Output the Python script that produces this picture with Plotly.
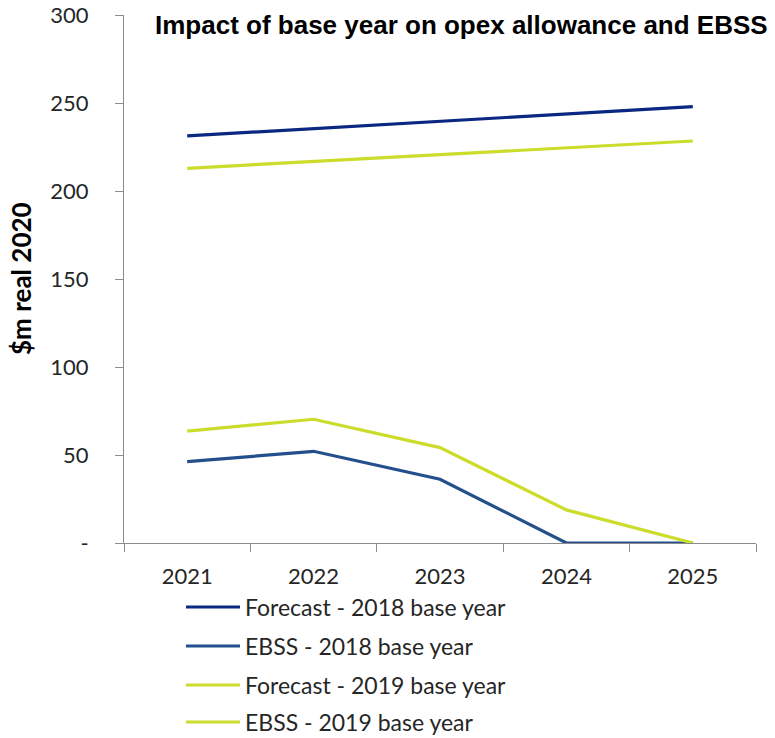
import plotly.graph_objects as go

# Regulatory years
years = ["2021", "2022", "2023", "2024", "2025"]

# $m real 2020
forecast_2018 = [231.3, 235.5, 239.8, 243.8, 247.9]
ebss_2018 = [46.2, 52.1, 36.2, 0.0, 0.0]
forecast_2019 = [212.9, 216.8, 220.8, 224.6, 228.4]
ebss_2019 = [63.6, 70.3, 54.2, 18.8, 0.0]

series_names = [
    "Forecast - 2018 base year",
    "EBSS - 2018 base year",
    "Forecast - 2019 base year",
    "EBSS - 2019 base year",
]
series_values = [forecast_2018, ebss_2018, forecast_2019, ebss_2019]
series_colors = ["#0a2781", "#234f8c", "#cbdc2a", "#cbdc2a"]

y_tick_vals = [0, 50, 100, 150, 200, 250, 300]
y_tick_text = ["-", "50", "100", "150", "200", "250", "300"]

W, H = 775, 738
ML, MR, MT, MB = 124, 19, 15, 195
PW, PH = W - ML - MR, H - MT - MB


def px_x(x):
    return (x - ML) / PW


def px_y(y):
    return (H - MB - y) / PH


fig = go.Figure()
for name, vals, col in zip(series_names, series_values, series_colors):
    fig.add_trace(go.Scatter(
        x=years, y=vals, name=name, mode="lines",
        line=dict(color=col, width=3.2),
        showlegend=False,
    ))

axis_grey = "#8c8c8c"
tick_font = dict(family="Lato, sans-serif", size=22, color="#262626")

fig.update_xaxes(
    type="category", range=[-0.5, 4.5], automargin=False,
    showline=True, linecolor=axis_grey, linewidth=1,
    ticks="outside", ticklen=8, tickcolor=axis_grey, tickwidth=1,
    tickson="boundaries", showgrid=False, zeroline=False,
    tickfont=tick_font, ticklabelstandoff=14,
)
fig.update_yaxes(
    range=[0, 300], tickvals=y_tick_vals, ticktext=y_tick_text, automargin=False,
    showline=True, linecolor=axis_grey, linewidth=1,
    ticks="outside", ticklen=8, tickcolor=axis_grey, tickwidth=1,
    showgrid=False, zeroline=False,
    tickfont=tick_font, ticklabelstandoff=22,
)

annotations = [
    dict(text="<b>Impact of base year on opex allowance and EBSS</b>",
         x=px_x(461), y=px_y(25), xref="paper", yref="paper",
         xanchor="center", yanchor="middle", showarrow=False,
         font=dict(family="Liberation Sans, Arial, sans-serif", size=26, color="#000000")),
    dict(text="<b>$m real 2020</b>",
         x=px_x(21), y=px_y(279), xref="paper", yref="paper",
         xanchor="center", yanchor="middle", showarrow=False, textangle=-90,
         font=dict(family="Lato, sans-serif", size=26, color="#000000")),
]

# Legend drawn below the plot area
shapes = []
legend_rows = [607, 646, 685, 722]
for name, col, row in zip(series_names, series_colors, legend_rows):
    shapes.append(dict(type="line", xref="paper", yref="paper",
                       x0=px_x(186), x1=px_x(240), y0=px_y(row), y1=px_y(row),
                       line=dict(color=col, width=3.2)))
    annotations.append(dict(text=name, x=px_x(243), y=px_y(row),
                            xref="paper", yref="paper", xanchor="left", yanchor="middle",
                            showarrow=False,
                            font=dict(family="Lato, sans-serif", size=23, color="#262626")))

fig.update_layout(
    width=W, height=H,
    margin=dict(l=ML, r=MR, t=MT, b=MB),
    paper_bgcolor="white", plot_bgcolor="white",
    showlegend=False,
    annotations=annotations, shapes=shapes,
)

fig.write_html("out.html")
